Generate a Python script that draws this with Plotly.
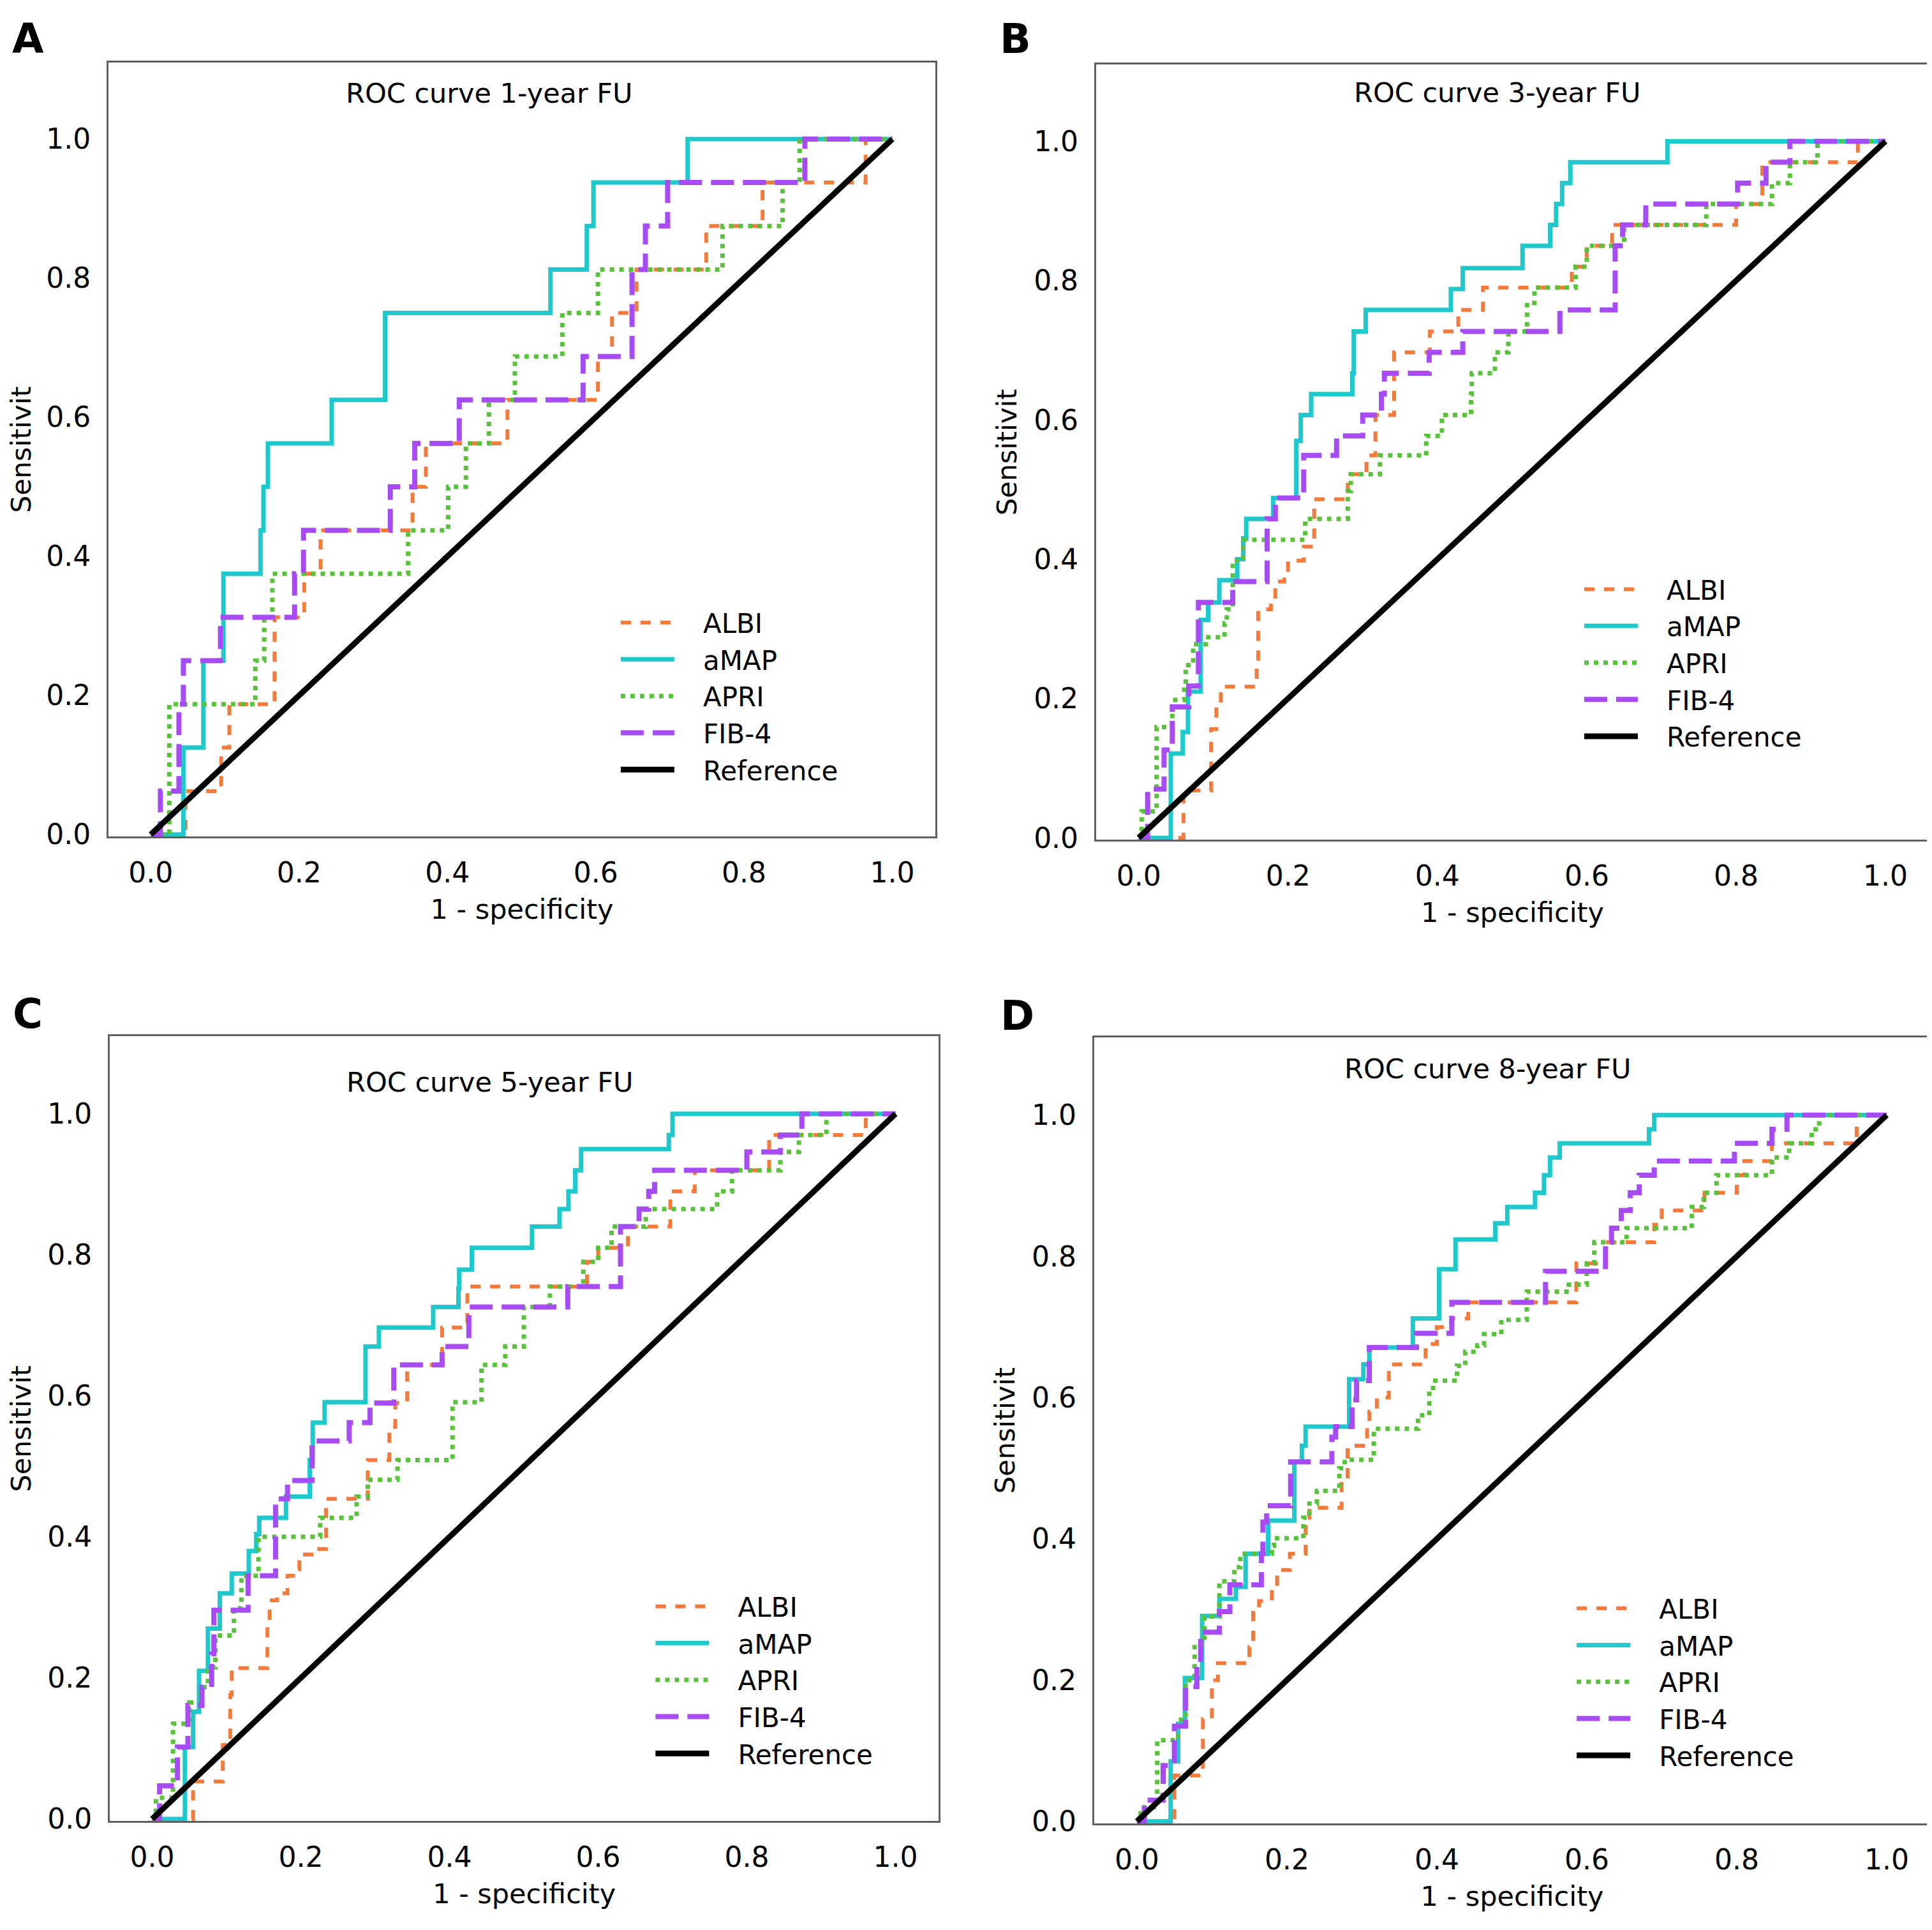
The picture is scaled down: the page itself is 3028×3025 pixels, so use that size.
import plotly.graph_objects as go

# ROC curves (1 - specificity, sensitivity), step corners
# ---- 1-year FU ----
A_ALBI_FPR = [0, 0.047, 0.095, 0.106, 0.167, 0.207, 0.229, 0.353, 0.371, 0.481, 0.603, 0.622, 0.655, 0.749, 0.825, 0.964, 1.0]
A_ALBI_TPR = [0, 0.0625, 0.125, 0.1875, 0.3125, 0.375, 0.4375, 0.5, 0.5625, 0.625, 0.6875, 0.75, 0.8125, 0.875, 0.9375, 1.0, 1.0]
A_AMAP_FPR = [0, 0.044, 0.071, 0.098, 0.148, 0.152, 0.158, 0.244, 0.316, 0.539, 0.588, 0.597, 0.724, 1.0]
A_AMAP_TPR = [0, 0.125, 0.25, 0.375, 0.4375, 0.5, 0.5625, 0.625, 0.75, 0.8125, 0.875, 0.9375, 1.0, 1.0]
A_APRI_FPR = [0, 0.025, 0.141, 0.153, 0.164, 0.347, 0.401, 0.425, 0.456, 0.491, 0.555, 0.603, 0.771, 0.852, 0.875, 1.0]
A_APRI_TPR = [0, 0.1875, 0.25, 0.3125, 0.375, 0.4375, 0.5, 0.5625, 0.625, 0.6875, 0.75, 0.8125, 0.875, 0.9375, 1.0, 1.0]
A_FIB4_FPR = [0, 0.013, 0.038, 0.044, 0.094, 0.194, 0.206, 0.323, 0.356, 0.416, 0.583, 0.649, 0.667, 0.697, 0.882, 1.0]
A_FIB4_TPR = [0, 0.0625, 0.1875, 0.25, 0.3125, 0.375, 0.4375, 0.5, 0.5625, 0.625, 0.6875, 0.8125, 0.875, 0.9375, 1.0, 1.0]

# ---- 3-year FU ----
B_ALBI_FPR = [0, 0.06, 0.097, 0.104, 0.11, 0.158, 0.16, 0.177, 0.183, 0.195, 0.2, 0.221, 0.235, 0.28, 0.305, 0.317, 0.342, 0.39, 0.428, 0.461, 0.58, 0.6, 0.634, 0.8, 0.835, 0.963, 1.0]
B_ALBI_TPR = [0, 0.068, 0.156, 0.188, 0.217, 0.248, 0.328, 0.339, 0.368, 0.378, 0.398, 0.418, 0.486, 0.522, 0.549, 0.607, 0.697, 0.727, 0.758, 0.79, 0.82, 0.85, 0.88, 0.91, 0.97, 1.0, 1.0]
B_AMAP_FPR = [0, 0.043, 0.059, 0.066, 0.083, 0.093, 0.108, 0.132, 0.14, 0.144, 0.18, 0.211, 0.217, 0.231, 0.286, 0.288, 0.304, 0.418, 0.434, 0.514, 0.551, 0.559, 0.567, 0.578, 0.708, 1.0]
B_AMAP_TPR = [0, 0.121, 0.152, 0.21, 0.313, 0.338, 0.37, 0.40, 0.43, 0.458, 0.488, 0.57, 0.607, 0.637, 0.667, 0.727, 0.758, 0.788, 0.818, 0.85, 0.88, 0.91, 0.94, 0.97, 1.0, 1.0]
B_APRI_FPR = [0, 0.004, 0.024, 0.045, 0.061, 0.063, 0.073, 0.09, 0.115, 0.118, 0.126, 0.14, 0.223, 0.28, 0.284, 0.323, 0.385, 0.406, 0.445, 0.446, 0.477, 0.495, 0.52, 0.53, 0.585, 0.6, 0.65, 0.76, 0.848, 0.872, 0.909, 1.0]
B_APRI_TPR = [0, 0.038, 0.159, 0.198, 0.218, 0.248, 0.278, 0.288, 0.308, 0.328, 0.398, 0.428, 0.458, 0.498, 0.522, 0.549, 0.577, 0.607, 0.637, 0.667, 0.697, 0.727, 0.768, 0.79, 0.82, 0.85, 0.88, 0.91, 0.94, 0.97, 1.0, 1.0]
B_FIB4_FPR = [0, 0.012, 0.034, 0.045, 0.067, 0.08, 0.126, 0.172, 0.183, 0.221, 0.265, 0.30, 0.325, 0.329, 0.389, 0.434, 0.564, 0.638, 0.648, 0.679, 0.802, 0.84, 0.872, 1.0]
B_FIB4_TPR = [0, 0.07, 0.126, 0.188, 0.218, 0.338, 0.368, 0.458, 0.488, 0.549, 0.577, 0.607, 0.637, 0.667, 0.697, 0.727, 0.758, 0.85, 0.88, 0.91, 0.94, 0.97, 1.0, 1.0]

# ---- 5-year FU ----
C_ALBI_FPR = [0, 0.055, 0.095, 0.105, 0.107, 0.155, 0.158, 0.168, 0.182, 0.195, 0.198, 0.22, 0.234, 0.29, 0.319, 0.327, 0.343, 0.39, 0.424, 0.585, 0.6, 0.64, 0.697, 0.73, 0.83, 0.96, 1.0]
C_ALBI_TPR = [0, 0.053, 0.105, 0.176, 0.214, 0.28, 0.31, 0.32, 0.345, 0.354, 0.375, 0.383, 0.454, 0.509, 0.556, 0.59, 0.644, 0.697, 0.755, 0.79, 0.81, 0.84, 0.89, 0.92, 0.97, 1.0, 1.0]
C_AMAP_FPR = [0, 0.044, 0.055, 0.063, 0.075, 0.091, 0.107, 0.13, 0.14, 0.144, 0.18, 0.212, 0.216, 0.232, 0.287, 0.305, 0.378, 0.412, 0.413, 0.43, 0.511, 0.548, 0.56, 0.569, 0.577, 0.695, 0.70, 1.0]
C_AMAP_TPR = [0, 0.102, 0.152, 0.21, 0.27, 0.32, 0.348, 0.38, 0.404, 0.427, 0.457, 0.509, 0.562, 0.591, 0.67, 0.697, 0.726, 0.752, 0.779, 0.81, 0.84, 0.865, 0.89, 0.92, 0.95, 0.97, 1.0, 1.0]
C_APRI_FPR = [0, 0.005, 0.028, 0.05, 0.065, 0.075, 0.085, 0.11, 0.12, 0.143, 0.226, 0.275, 0.29, 0.33, 0.404, 0.443, 0.475, 0.5, 0.535, 0.58, 0.6, 0.618, 0.664, 0.76, 0.78, 0.845, 0.87, 0.907, 1.0]
C_APRI_TPR = [0, 0.03, 0.135, 0.165, 0.187, 0.215, 0.26, 0.299, 0.345, 0.4, 0.427, 0.457, 0.481, 0.509, 0.591, 0.644, 0.67, 0.726, 0.755, 0.79, 0.81, 0.84, 0.865, 0.89, 0.92, 0.946, 0.97, 1.0, 1.0]
C_FIB4_FPR = [0, 0.01, 0.034, 0.048, 0.067, 0.08, 0.083, 0.129, 0.166, 0.182, 0.215, 0.265, 0.293, 0.325, 0.39, 0.426, 0.559, 0.63, 0.655, 0.668, 0.676, 0.8, 0.845, 0.874, 1.0]
C_FIB4_TPR = [0, 0.047, 0.102, 0.161, 0.187, 0.234, 0.296, 0.345, 0.454, 0.48, 0.536, 0.562, 0.59, 0.644, 0.67, 0.726, 0.755, 0.84, 0.865, 0.89, 0.92, 0.946, 0.97, 1.0, 1.0]

# ---- 8-year FU ----
D_ALBI_FPR = [0, 0.05, 0.088, 0.1, 0.108, 0.15, 0.155, 0.163, 0.18, 0.187, 0.204, 0.225, 0.23, 0.273, 0.281, 0.307, 0.31, 0.32, 0.336, 0.385, 0.4, 0.419, 0.442, 0.586, 0.625, 0.69, 0.7, 0.757, 0.8, 0.81, 0.847, 0.96, 1.0]
D_ALBI_TPR = [0, 0.065, 0.145, 0.2, 0.224, 0.247, 0.3, 0.312, 0.332, 0.356, 0.379, 0.43, 0.444, 0.485, 0.532, 0.56, 0.58, 0.6, 0.647, 0.676, 0.7, 0.712, 0.735, 0.79, 0.82, 0.845, 0.865, 0.89, 0.915, 0.935, 0.96, 1.0, 1.0]
D_AMAP_FPR = [0, 0.045, 0.055, 0.064, 0.087, 0.11, 0.132, 0.145, 0.175, 0.21, 0.22, 0.225, 0.283, 0.302, 0.31, 0.368, 0.403, 0.425, 0.478, 0.494, 0.531, 0.543, 0.551, 0.564, 0.683, 0.69, 1.0]
D_AMAP_TPR = [0, 0.085, 0.138, 0.203, 0.291, 0.315, 0.332, 0.379, 0.426, 0.509, 0.532, 0.559, 0.626, 0.647, 0.671, 0.712, 0.782, 0.824, 0.847, 0.87, 0.89, 0.915, 0.94, 0.96, 0.98, 1.0, 1.0]
D_APRI_FPR = [0, 0.005, 0.027, 0.055, 0.065, 0.077, 0.09, 0.11, 0.13, 0.138, 0.18, 0.183, 0.222, 0.23, 0.24, 0.27, 0.277, 0.316, 0.375, 0.39, 0.395, 0.427, 0.438, 0.454, 0.463, 0.486, 0.52, 0.576, 0.6, 0.61, 0.653, 0.74, 0.756, 0.773, 0.847, 0.87, 0.9, 0.91, 1.0]
D_APRI_TPR = [0, 0.02, 0.115, 0.144, 0.2, 0.25, 0.29, 0.34, 0.36, 0.379, 0.39, 0.401, 0.43, 0.45, 0.468, 0.5, 0.512, 0.556, 0.575, 0.61, 0.624, 0.645, 0.665, 0.674, 0.69, 0.71, 0.75, 0.76, 0.79, 0.82, 0.84, 0.87, 0.89, 0.915, 0.94, 0.96, 0.98, 1.0, 1.0]
D_FIB4_FPR = [0, 0.01, 0.035, 0.05, 0.065, 0.08, 0.085, 0.11, 0.124, 0.166, 0.168, 0.173, 0.205, 0.26, 0.265, 0.287, 0.293, 0.31, 0.373, 0.42, 0.545, 0.625, 0.633, 0.646, 0.658, 0.67, 0.69, 0.797, 0.847, 0.867, 1.0]
D_FIB4_TPR = [0, 0.03, 0.079, 0.135, 0.191, 0.215, 0.268, 0.297, 0.335, 0.379, 0.424, 0.447, 0.509, 0.544, 0.559, 0.597, 0.624, 0.671, 0.691, 0.735, 0.779, 0.82, 0.84, 0.865, 0.89, 0.915, 0.935, 0.96, 0.98, 1.0, 1.0]

REF_X = [0.0, 1.0]
REF_Y = [0.0, 1.0]

TICKS = [0.0, 0.2, 0.4, 0.6, 0.8, 1.0]
SERIES = ["ALBI", "aMAP", "APRI", "FIB-4"]
LETTERS = ["A", "B", "C", "D"]
TITLES = ["ROC curve 1-year FU", "ROC curve 3-year FU", "ROC curve 5-year FU", "ROC curve 8-year FU"]

CURVES = [
    {"ALBI": (A_ALBI_FPR, A_ALBI_TPR), "aMAP": (A_AMAP_FPR, A_AMAP_TPR),
     "APRI": (A_APRI_FPR, A_APRI_TPR), "FIB-4": (A_FIB4_FPR, A_FIB4_TPR)},
    {"ALBI": (B_ALBI_FPR, B_ALBI_TPR), "aMAP": (B_AMAP_FPR, B_AMAP_TPR),
     "APRI": (B_APRI_FPR, B_APRI_TPR), "FIB-4": (B_FIB4_FPR, B_FIB4_TPR)},
    {"ALBI": (C_ALBI_FPR, C_ALBI_TPR), "aMAP": (C_AMAP_FPR, C_AMAP_TPR),
     "APRI": (C_APRI_FPR, C_APRI_TPR), "FIB-4": (C_FIB4_FPR, C_FIB4_TPR)},
    {"ALBI": (D_ALBI_FPR, D_ALBI_TPR), "aMAP": (D_AMAP_FPR, D_AMAP_TPR),
     "APRI": (D_APRI_FPR, D_APRI_TPR), "FIB-4": (D_FIB4_FPR, D_FIB4_TPR)},
]

STYLE = {
    "ALBI": dict(color="#F47A3C", width=6, dash="16px,15px"),
    "aMAP": dict(color="#1FC8CB", width=7),
    "APRI": dict(color="#58C23A", width=7, dash="7px,8px"),
    "FIB-4": dict(color="#A74CF5", width=8, dash="36px,14px"),
}

FONT = "DejaVu Sans"
PAD = "\u00a0\u00a0\u00a0"  # gap between legend line sample and label

# panel geometry (paper fractions)
X_DOMAINS = [[0.0535, 0.4815], [0.5647, 0.9957], [0.0542, 0.4832], [0.5637, 0.9964]]
Y_DOMAINS = [[0.566, 0.970], [0.5643, 0.9689], [0.0522, 0.4618], [0.0509, 0.4612]]
TITLE_POS = [(0.456, 1.066), (0.48, 1.07), (0.454, 1.045), (0.468, 1.066)]
LETTER_POS = [(0.0118, 0.9825), (0.523, 0.9825), (0.0118, 0.4735), (0.524, 0.4725)]
LEGEND_POS = [(0.317, 0.689), (0.8157, 0.7064), (0.335, 0.1755), (0.8118, 0.1745)]

fig = go.Figure()
annotations = []
layout = {}

for i in range(4):
    n = "" if i == 0 else str(i + 1)
    xa, ya, lg = "x" + n, "y" + n, "legend" + n
    for name in SERIES:
        fpr, tpr = CURVES[i][name]
        fig.add_trace(go.Scatter(
            x=fpr, y=tpr, mode="lines", name=PAD + name,
            line=dict(shape="hv", **STYLE[name]),
            xaxis=xa, yaxis=ya, legend=lg,
        ))
    fig.add_trace(go.Scatter(
        x=REF_X, y=REF_Y, mode="lines", name=PAD + "Reference",
        line=dict(color="black", width=9),
        xaxis=xa, yaxis=ya, legend=lg,
    ))

    common = dict(
        tickvals=TICKS, tickformat=".1f", showgrid=False, zeroline=False,
        showline=True, mirror=True, linecolor="#606060", linewidth=3,
        ticks="outside", ticklen=16, tickcolor="rgba(0,0,0,0)",
        tickfont=dict(family=FONT, size=44, color="black"),
    )
    layout["xaxis" + n] = dict(
        common, domain=X_DOMAINS[i], range=[-0.057, 1.058], anchor=ya,
        title=dict(text="1 - specificity", font=dict(family=FONT, size=43, color="black"), standoff=18),
    )
    layout["yaxis" + n] = dict(
        common, domain=Y_DOMAINS[i], range=[-0.003, 1.11], anchor=xa,
        title=dict(text="Sensitivit", font=dict(family=FONT, size=43, color="black"), standoff=14),
    )
    layout[lg] = dict(
        x=LEGEND_POS[i][0], y=LEGEND_POS[i][1], xanchor="left", yanchor="top",
        bgcolor="rgba(0,0,0,0)", font=dict(family=FONT, size=42, color="black"),
        itemwidth=84, tracegroupgap=0,
    )
    annotations.append(dict(
        text=TITLES[i], x=TITLE_POS[i][0], y=TITLE_POS[i][1], xref=xa, yref=ya,
        xanchor="center", yanchor="middle",
        showarrow=False, font=dict(family=FONT, size=43, color="black"),
    ))
    annotations.append(dict(
        text="<b>%s</b>" % LETTERS[i], x=LETTER_POS[i][0], y=LETTER_POS[i][1],
        xref="paper", yref="paper", xanchor="center", yanchor="middle", showarrow=False,
        font=dict(family=FONT, size=64, color="black"),
    ))

fig.update_layout(
    width=3028, height=3025,
    margin=dict(l=0, r=0, t=0, b=0),
    paper_bgcolor="white", plot_bgcolor="white",
    font=dict(family=FONT, color="black"),
    annotations=annotations,
    **layout,
)

fig.write_html("out.html")
